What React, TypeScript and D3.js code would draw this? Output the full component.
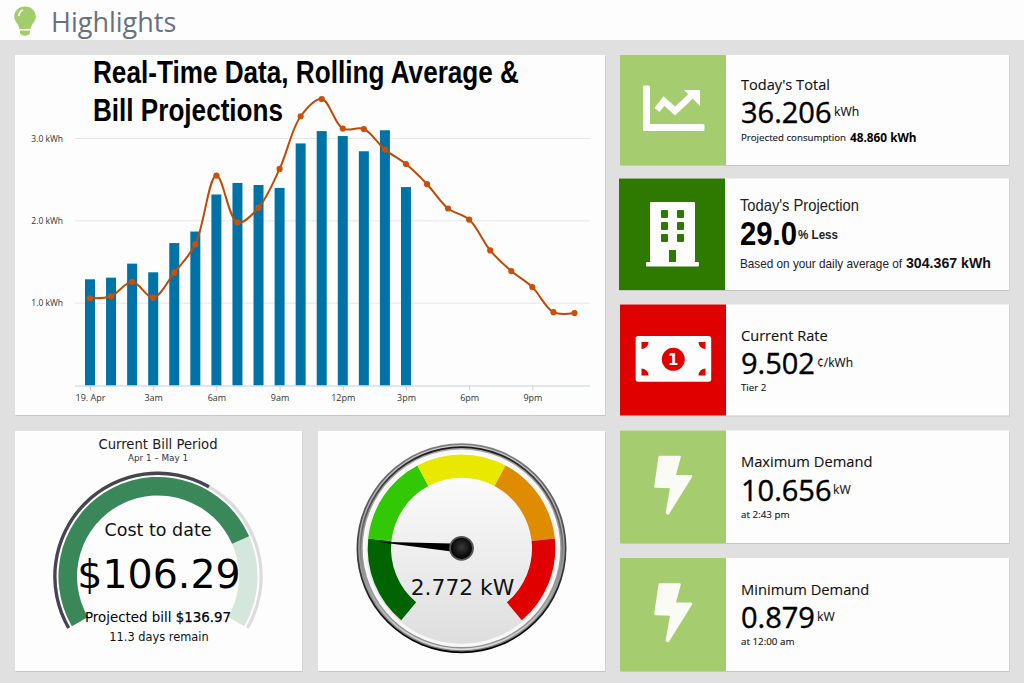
import React, { useEffect, useRef } from "react";
import * as d3 from "d3";

const hours = d3.range(24);
const usage = [1.29, 1.31, 1.48, 1.375, 1.73, 1.87, 2.32, 2.46, 2.435, 2.4, 2.94, 3.09, 3.03, 2.845, 3.1, 2.41];
const rolling = [1.06, 1.084, 1.26, 1.067, 1.37, 1.715, 2.55, 1.98, 2.16, 2.63, 3.27, 3.48, 3.12, 3.115, 2.865, 2.69, 2.445, 2.15, 2.015, 1.64, 1.39, 1.195, 0.89, 0.88];
const yTicks = [1, 2, 3];
const xTicks = [0, 3, 6, 9, 12, 15, 18, 21];
const xLabels = ["19. Apr", "3am", "6am", "9am", "12pm", "3pm", "6pm", "9pm"];

const costToDate = 106.29;
const projectedBill = 136.97;
const daysInPeriod = 30;
const daysRemain = 11.3;

const demandNow = 2.772;
const demandStops = [0, 2.85, 5.7, 8.55, 11.4, 14.25];
const demandColors = ["#006400", "#32c805", "#e8e800", "#e08c00", "#e00000"];

const openSans = "'Open Sans', sans-serif";
const liberation = "'Liberation Sans', Arial, sans-serif";
const dejavu = "'DejaVu Sans', sans-serif";

type Sel = d3.Selection<any, any, any, any>;

const rad = (deg: number) => (deg * Math.PI) / 180;

const label = (g: Sel, s: string, x: number, y: number, size: number, opts: any = {}) => {
    const t = g.append("text")
        .attr("x", x)
        .attr("y", y)
        .attr("font-size", size)
        .attr("font-family", opts.font || openSans)
        .attr("font-weight", opts.weight || 400)
        .attr("fill", opts.fill || "#111")
        .attr("text-anchor", opts.anchor || "start")
        .text(s);
    if (opts.len) t.attr("textLength", opts.len).attr("lengthAdjust", "spacingAndGlyphs");
    if (opts.heavy) t.attr("stroke", opts.fill || "#111").attr("stroke-width", opts.heavy);
    return t;
};

const card = (g: Sel, x: number, y: number, w: number, h: number) => {
    g.append("rect").attr("x", x + 0.5).attr("y", y + 1).attr("width", w).attr("height", h).attr("fill", "#c6c6c6");
    g.append("rect").attr("x", x).attr("y", y).attr("width", w).attr("height", h).attr("fill", "#fdfdfd");
};

const drawHeader = (g: Sel) => {
    g.append("rect").attr("width", 1024).attr("height", 40).attr("fill", "#fdfdfd");
    g.append("path")
        .attr("d", "M25,6.5 C18.5,6.5 14.2,11.2 14.2,16.8 C14.2,22 18.5,23.5 19.5,29 L30.5,29 C31.5,23.5 35.8,22 35.8,16.8 C35.8,11.2 31.5,6.5 25,6.5 Z")
        .attr("fill", "#a2cd6d");
    g.append("path").attr("d", "M20,30.5 H30 V33 Q29,35.8 25,35.8 Q21,35.8 20,33 Z").attr("fill", "#a2cd6d");
    g.append("path").attr("d", "M19,16 Q19,11.5 23,10").attr("fill", "none").attr("stroke", "#f4f8ec").attr("stroke-width", 1.8);
    label(g, "Highlights", 51, 31.5, 27, { fill: "#68727e" });
};

const drawMainChart = (g: Sel) => {
    const x = d3.scaleLinear().domain([0, 23]).range([90, 574.5]);
    const y = d3.scaleLinear().domain([0, 3]).range([385.5, 138.5]);

    card(g, 15, 55, 590, 360);

    g.append("g")
        .selectAll("line")
        .data(yTicks)
        .join("line")
        .attr("x1", 75)
        .attr("x2", 590)
        .attr("y1", d => y(d))
        .attr("y2", d => y(d))
        .attr("stroke", "#e6e6e6");

    const yAxis = g.append("g")
        .attr("transform", "translate(75,0)")
        .call(d3.axisLeft(y).tickValues(yTicks).tickSize(0).tickPadding(12).tickFormat(d => `${d3.format(".1f")(d as number)} kWh`));
    yAxis.select(".domain").remove();
    yAxis.selectAll("text").attr("font-family", openSans).attr("font-size", 8.5).attr("fill", "#333");

    g.append("g")
        .selectAll("rect")
        .data(usage)
        .join("rect")
        .attr("x", (_, i) => x(hours[i]) - 5)
        .attr("y", d => y(d))
        .attr("width", 10)
        .attr("height", d => y(0) - y(d))
        .attr("fill", "#0073a6");

    const xAxis = g.append("g")
        .attr("transform", `translate(0,${y(0)})`)
        .call(d3.axisBottom(x).tickValues(xTicks).tickSize(5).tickPadding(4).tickFormat((_, i) => xLabels[i]));
    xAxis.select(".domain").attr("d", "M75,0.5H590").attr("stroke", "#c0d0e0");
    xAxis.selectAll("line").attr("stroke", "#c0d0e0");
    xAxis.selectAll("text").attr("font-family", openSans).attr("font-size", 9).attr("fill", "#333");

    const line = d3.line<number>()
        .x((_, i) => x(hours[i]))
        .y(d => y(d))
        .curve(d3.curveCatmullRom.alpha(0.5));

    g.append("path")
        .attr("d", line(rolling))
        .attr("fill", "none")
        .attr("stroke", "#c04a05")
        .attr("stroke-width", 2);

    g.append("g")
        .selectAll("circle")
        .data(rolling)
        .join("circle")
        .attr("cx", (_, i) => x(hours[i]))
        .attr("cy", d => y(d))
        .attr("r", 3.1)
        .attr("fill", "#c8500a");

    label(g, "Real-Time Data, Rolling Average &", 93, 83, 31, { font: liberation, weight: 700, fill: "#000", len: 426 });
    label(g, "Bill Projections", 93, 120.5, 31, { font: liberation, weight: 700, fill: "#000", len: 190 });
};

const drawBillGauge = (g: Sel) => {
    card(g, 15, 431, 287, 240);
    const cx = 158;
    const cy = 576.4;
    const angle = d3.scaleLinear().domain([0, 1]).range([-120, 120]);
    const arc = d3.arc<any>();

    const band = g.append("g").attr("transform", `translate(${cx},${cy})`);
    const piece = (inner: number, outer: number, from: number, to: number, fill: string) =>
        band.append("path")
            .attr("d", arc({ innerRadius: inner, outerRadius: outer, startAngle: rad(angle(from)), endAngle: rad(angle(to)) }))
            .attr("fill", fill);

    const spent = costToDate / projectedBill;
    const elapsed = (daysInPeriod - daysRemain) / daysInPeriod;
    piece(101.5, 104.8, 0, 1, "#dcdcde");
    piece(101.5, 104.8, 0, elapsed, "#45454f");
    piece(81, 99.5, 0, 1, "#d5e6dc");
    piece(81, 99.5, 0, spent, "#3a875a");

    label(g, "Current Bill Period", cx, 448.5, 13.2, { font: dejavu, anchor: "middle", fill: "#1a1a2a" });
    label(g, "Apr 1 – May 1", cx, 461, 8.8, { font: dejavu, anchor: "middle", fill: "#33334a" });
    label(g, "Cost to date", cx, 536, 17.5, { font: dejavu, anchor: "middle" });
    label(g, `$${costToDate}`, cx + 1, 588, 39.5, { font: dejavu, anchor: "middle", fill: "#000" });
    const p = label(g, "Projected bill ", cx, 622, 13.4, { font: dejavu, anchor: "middle", fill: "#000" });
    p.append("tspan").attr("stroke", "#000").attr("stroke-width", 0.25).text(`$${projectedBill}`);
    label(g, `${daysRemain} days remain`, cx + 1, 641, 11.4, { font: dejavu, anchor: "middle" });
};

const drawDial = (g: Sel, defs: Sel) => {
    card(g, 318, 431, 287, 240);
    const cx = 461.5;
    const cy = 548.3;

    const vGrad = (id: string, top: string, bottom: string) => {
        const lg = defs.append("linearGradient").attr("id", id).attr("x1", 0).attr("y1", 0).attr("x2", 0).attr("y2", 1);
        lg.append("stop").attr("offset", 0).attr("stop-color", top);
        lg.append("stop").attr("offset", 1).attr("stop-color", bottom);
    };
    vGrad("rimOuter", "#808080", "#000000");
    vGrad("rimMid", "#cccccc", "#7a7a7a");
    vGrad("rimInner", "#1a1a1a", "#dddddd");
    vGrad("rimLast", "#a8a8a8", "#909090");
    vGrad("face", "#ffffff", "#dedede");
    const hub = defs.append("radialGradient").attr("id", "hub").attr("cx", 0.5).attr("cy", 0.45).attr("r", 0.55);
    hub.append("stop").attr("offset", 0).attr("stop-color", "#3a3a3a");
    hub.append("stop").attr("offset", 1).attr("stop-color", "#000");

    const dial = g.append("g").attr("transform", `translate(${cx},${cy})`);
    const ring = (r: number, fill: string) => dial.append("circle").attr("r", r).attr("fill", fill);
    ring(105, "url(#rimOuter)");
    ring(103.3, "url(#rimMid)");
    ring(102, "url(#rimInner)");
    ring(100.2, "url(#rimLast)");
    ring(98.8, "#f8f8f8");
    ring(95.5, "url(#face)");

    const angle = d3.scaleLinear().domain([0, 14.25]).range([-140, 140]);
    const arc = d3.arc<any>();
    dial.append("g")
        .selectAll("path")
        .data(demandColors)
        .join("path")
        .attr("d", (_, i) => arc({ innerRadius: 70.5, outerRadius: 93.8, startAngle: rad(angle(demandStops[i])), endAngle: rad(angle(demandStops[i + 1])) }))
        .attr("fill", d => d);

    dial.append("path")
        .attr("d", "M0,-85 L4.5,0 L-4.5,0 Z")
        .attr("fill", "#000")
        .attr("transform", `rotate(${angle(demandNow)})`);
    ring(12.4, "#555");
    ring(10.6, "url(#hub)");

    label(g, `${demandNow} kW`, cx + 1, 595, 21.8, { font: dejavu, anchor: "middle" });
};

const statCard = (g: Sel, y: number, h: number, color: string, x0 = 620, split = 726) => {
    g.append("rect").attr("x", x0 + 0.5).attr("y", y + 1).attr("width", 1009 - x0).attr("height", h).attr("fill", "#c6c6c6");
    g.append("rect").attr("x", x0).attr("y", y).attr("width", 1009 - x0).attr("height", h).attr("fill", "#fdfdfd");
    g.append("rect").attr("x", x0).attr("y", y).attr("width", split - x0).attr("height", h).attr("fill", color);
};

const bolt = (g: Sel, dy: number) =>
    g.append("path")
        .attr("d", "M659.8,457 L679.5,457 L674.3,476.2 L691,476.2 L667.8,513.5 L667,512.8 L671.5,487 L655.5,486.4 Z")
        .attr("transform", `translate(0,${dy})`)
        .attr("fill", "#fbfbf6")
        .attr("stroke", "#fbfbf6")
        .attr("stroke-width", 2.6)
        .attr("stroke-linejoin", "round");

const drawStats = (g: Sel) => {
    const big = { fill: "#000", heavy: 0.4 };
    const sub = { heavy: 0.12 };

    // today's total
    statCard(g, 55, 110, "#a5cd6f");
    g.append("path").attr("d", "M643,87 Q643,85.5 644.5,85.5 H648.5 Q650,85.5 650,87 V124 H703 Q704.5,124 704.5,125.5 V129.5 Q704.5,131 703,131 H644.5 Q643,131 643,129.5 Z").attr("fill", "#fdfdfd");
    g.append("path").attr("d", "M657,110 L664,101 L675,111 L691,96").attr("fill", "none").attr("stroke", "#fdfdfd").attr("stroke-width", 6.5);
    g.append("path").attr("d", "M684,90 H700 V106 Z").attr("fill", "#fdfdfd");
    label(g, "Today's Total", 741, 89.5, 14.6, sub);
    label(g, "36.206", 741, 122.7, 29, big);
    label(g, "kWh", 834, 116, 12.2, sub);
    label(g, "Projected consumption", 741, 141, 9.7, sub);
    label(g, "48.860 kWh", 850, 141.5, 11.8, { weight: 700, fill: "#000" });

    // today's projection
    statCard(g, 178.5, 111.5, "#2e7a00", 619, 725);
    g.append("rect").attr("x", 650).attr("y", 202).attr("width", 45).attr("height", 60).attr("rx", 1).attr("fill", "#fdfdfd");
    g.append("rect").attr("x", 646).attr("y", 262).attr("width", 53).attr("height", 4.5).attr("rx", 1).attr("fill", "#fdfdfd");
    g.append("g").selectAll("rect")
        .data(d3.cross([661, 677], [210, 222, 234]))
        .join("rect")
        .attr("x", d => d[0])
        .attr("y", d => d[1])
        .attr("width", 7)
        .attr("height", 8)
        .attr("rx", 1)
        .attr("fill", "#2e7a00");
    g.append("rect").attr("x", 669).attr("y", 250).attr("width", 7).attr("height", 12).attr("fill", "#2e7a00");
    label(g, "Today's Projection", 740, 211, 16.5, { font: liberation, fill: "#222", len: 119 });
    label(g, "29.0", 740, 245, 33, { font: liberation, weight: 700, fill: "#000", len: 57 });
    label(g, "% Less", 798, 238.5, 13, { font: liberation, weight: 700, fill: "#222", len: 40 });
    label(g, "Based on your daily average of", 740, 267.5, 13.5, { font: liberation, fill: "#222", len: 162 });
    label(g, "304.367 kWh", 906, 267.5, 15, { font: liberation, weight: 700, fill: "#111", len: 85 });

    // current rate
    statCard(g, 304.5, 111, "#e00000");
    g.append("rect").attr("x", 635.7).attr("y", 336).attr("width", 75.5).attr("height", 45.7).attr("rx", 2.5).attr("fill", "#fdfdfd");
    g.append("circle").attr("cx", 673.3).attr("cy", 359.3).attr("r", 11.5).attr("fill", "#e00000");
    label(g, "1", 673.3, 364.5, 15, { font: dejavu, weight: 700, anchor: "middle", fill: "#fdfdfd" });
    g.append("path")
        .attr("d", "M641.5,342 H648.5 A7,7 0 0 1 641.5,349 Z M705.5,342 H698.5 A7,7 0 0 0 705.5,349 Z M641.5,375.5 H648.5 A7,7 0 0 0 641.5,368.5 Z M705.5,375.5 H698.5 A7,7 0 0 1 705.5,368.5 Z")
        .attr("fill", "#e00000");
    label(g, "Current Rate", 741, 340.7, 14.6, sub);
    label(g, "9.502", 741, 374, 29, big);
    label(g, "¢/kWh", 817, 366.7, 12, sub);
    label(g, "Tier 2", 741, 391, 9.7, sub);

    // maximum demand
    statCard(g, 430.5, 112.5, "#a5cd6f");
    bolt(g, 0);
    label(g, "Maximum Demand", 741, 467.3, 14.7, sub);
    label(g, "10.656", 741, 500.7, 29, big);
    label(g, "kW", 833, 493.5, 12.2, sub);
    label(g, "at 2:43 pm", 741, 517.7, 9.8, sub);

    // minimum demand
    statCard(g, 558, 113, "#a5cd6f");
    bolt(g, 127.5);
    label(g, "Minimum Demand", 741, 595, 14.7, sub);
    label(g, "0.879", 741, 628, 29, big);
    label(g, "kW", 817, 621, 12.2, sub);
    label(g, "at 12:00 am", 741, 645, 9.8, sub);
};

export default function App() {
    const ref = useRef<SVGSVGElement>(null);

    useEffect(() => {
        const svg = d3.select(ref.current);
        svg.selectAll("*").remove();
        const defs = svg.append("defs");
        svg.append("rect").attr("width", 1024).attr("height", 683).attr("fill", "#e0e0e0");
        drawHeader(svg);
        drawMainChart(svg);
        drawBillGauge(svg);
        drawDial(svg, defs);
        drawStats(svg);
    }, []);

    return <svg ref={ref} width={1024} height={683} style={{ position: "absolute", left: 0, top: 0 }} />;
}
